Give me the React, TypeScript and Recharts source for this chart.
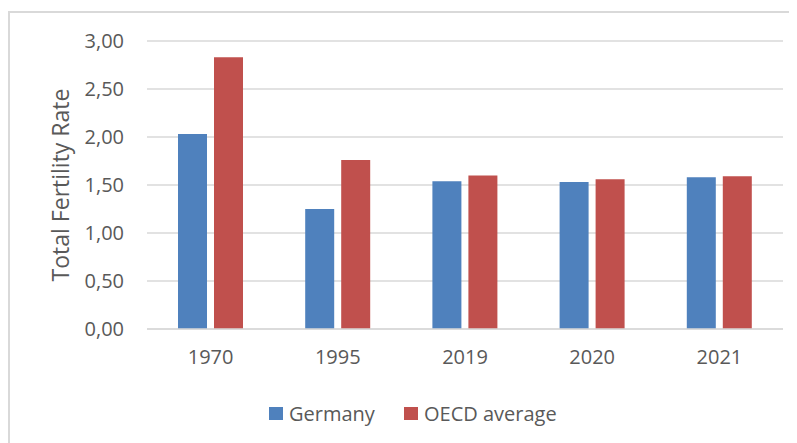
import { BarChart, Bar, XAxis, YAxis, CartesianGrid, Legend } from 'recharts';

const years = ['1970', '1995', '2019', '2020', '2021'];
const germany = [2.03, 1.25, 1.54, 1.53, 1.58];
const oecd = [2.83, 1.76, 1.6, 1.56, 1.59];
const yTicks = [0, 0.5, 1, 1.5, 2, 2.5, 3];

const series = [
  { key: 'germany', name: 'Germany', color: '#4F81BD' },
  { key: 'oecd', name: 'OECD average', color: '#C0504D' },
];

const data = years.map((year, i) => ({ year, germany: germany[i], oecd: oecd[i] }));

const font = '"Open Sans", sans-serif';
const textColor = '#595959';

function LegendBox() {
  return (
    <div style={{ display: 'flex', alignItems: 'center', fontFamily: font, fontSize: 20, color: textColor }}>
      {series.map((s, i) => (
        <div key={s.key} style={{ display: 'flex', alignItems: 'center', width: i === 0 ? 135 : 'auto' }}>
          <span style={{ display: 'inline-block', width: 14, height: 13, background: s.color, marginRight: 6 }} />
          <span>{s.name}</span>
        </div>
      ))}
    </div>
  );
}

export default function App() {
  return (
    <div
      style={{
        marginTop: 3,
        width: 787,
        height: 430,
        borderTop: '2px solid #D9D9D9',
        borderLeft: '2px solid #D9D9D9',
        background: '#fff',
      }}
    >
      <BarChart
        width={787}
        height={430}
        data={data}
        margin={{ top: 28, right: 14, left: 0, bottom: 10 }}
        barSize={29}
        barGap={7}
      >
        <CartesianGrid vertical={false} stroke="#D9D9D9" strokeWidth={1.5} />
        <XAxis
          dataKey="year"
          height={77}
          tickLine={false}
          axisLine={{ stroke: '#D9D9D9', strokeWidth: 1.5 }}
          tickMargin={15}
          tick={{ fill: textColor, fontSize: 20, fontFamily: font }}
        />
        <YAxis
          width={137}
          domain={[0, 3]}
          ticks={yTicks}
          interval={0}
          tickLine={false}
          axisLine={false}
          tickMargin={17}
          tickFormatter={(v: number) => v.toFixed(2).replace('.', ',')}
          tick={{ fill: textColor, fontSize: 20, fontFamily: font }}
          label={{
            value: 'Total Fertility Rate',
            angle: -90,
            position: 'insideLeft',
            offset: 51,
            style: { textAnchor: 'middle', fill: textColor, fontSize: 23, fontFamily: font },
          }}
        />
        <Legend content={<LegendBox />} wrapperStyle={{ left: 259, top: 387, width: 'auto' }} />
        {series.map((s) => (
          <Bar key={s.key} dataKey={s.key} name={s.name} fill={s.color} isAnimationActive={false} />
        ))}
      </BarChart>
    </div>
  );
}
